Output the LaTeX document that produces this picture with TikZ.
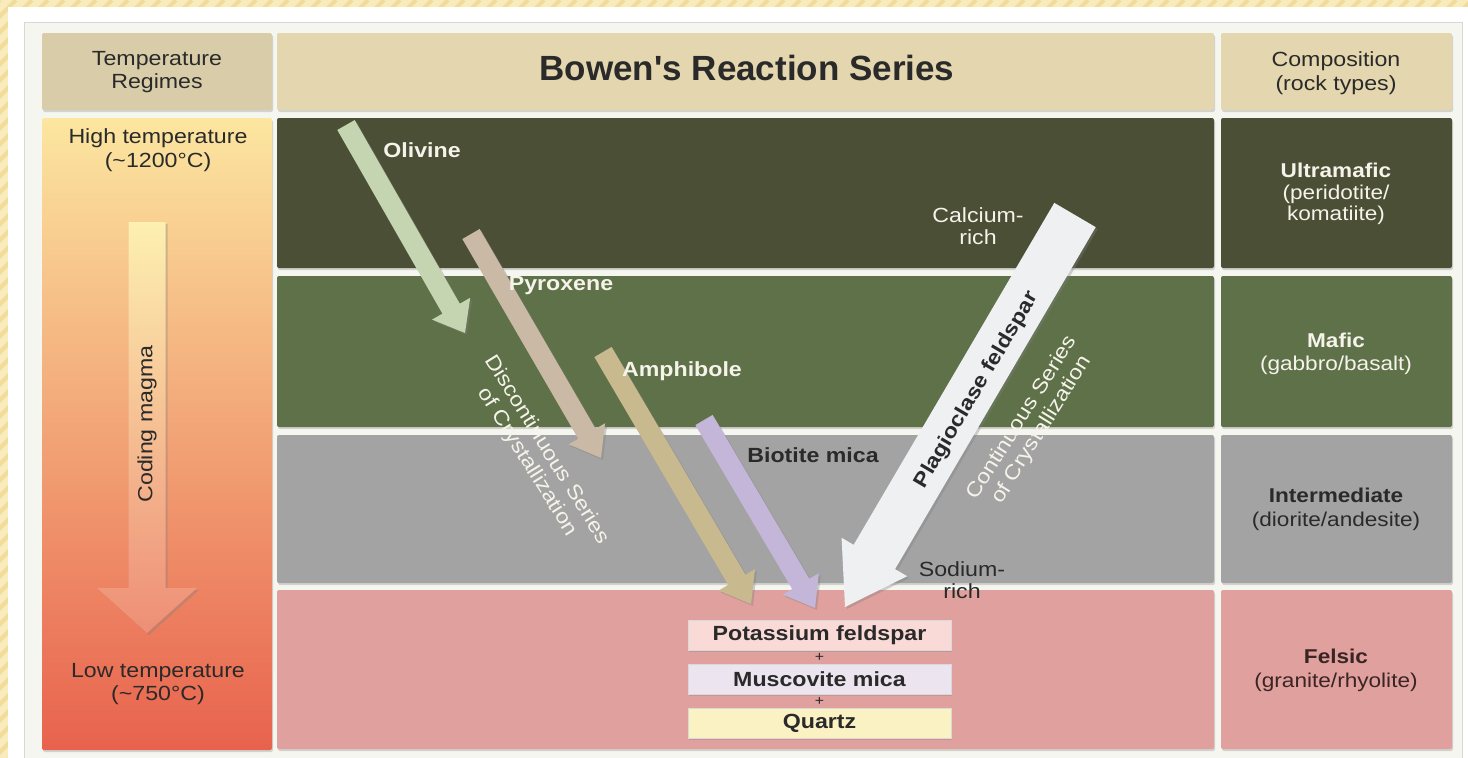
\documentclass[tikz,border=0pt]{standalone}
\usepackage{fontspec}
\setmainfont{Liberation Sans}[FakeStretch=1.13]
\newfontfamily\titlefont{Liberation Sans}
\usetikzlibrary{calc,shadows}
\definecolor{bgyel}{HTML}{F9EBBC}
\definecolor{bgstripe}{HTML}{F2DC9C}
\definecolor{panel}{HTML}{F6F6F1}
\definecolor{panelline}{HTML}{D9D9D3}
\definecolor{hdrleft}{HTML}{D9CCA8}
\definecolor{hdr}{HTML}{E4D6AE}
\definecolor{rowA}{HTML}{4B4F36}
\definecolor{rowB}{HTML}{5E7149}
\definecolor{rowC}{HTML}{A3A3A3}
\definecolor{rowD}{HTML}{E0A09D}
\definecolor{tempTop}{HTML}{FCE6A0}
\definecolor{tempMid}{HTML}{F4A877}
\definecolor{tempBot}{HTML}{E8624D}
\definecolor{coolTop}{HTML}{FDF0B0}
\definecolor{coolBot}{HTML}{EE8E76}
\definecolor{olivC}{HTML}{C6D5B1}
\definecolor{pyroC}{HTML}{C9B9A5}
\definecolor{amphC}{HTML}{C8B98E}
\definecolor{bioC}{HTML}{C4B6D8}
\definecolor{plagC}{HTML}{EEF0F2}
\definecolor{kspC}{HTML}{FADAD6}
\definecolor{muscC}{HTML}{ECE4EF}
\definecolor{qtzC}{HTML}{FBF2C4}
\definecolor{darktxt}{HTML}{2A2A2A}
\definecolor{lighttxt}{HTML}{F6F3EA}
\definecolor{felstxt}{HTML}{3A2424}
\newcommand{\fatarrow}[6]{%
  \coordinate (#1-H) at ($(#2)!#5!(#1)$);
  \path[#6] ($(#1)!#3!90:(#2)$) -- ($(#1-H)!#3!-90:(#1)$) -- ($(#1-H)!#4!-90:(#1)$) -- (#2)
     -- ($(#1-H)!#4!90:(#1)$) -- ($(#1-H)!#3!90:(#1)$) -- ($(#1)!#3!-90:(#2)$) -- cycle;}
\begin{document}
\begin{tikzpicture}[x=1pt,y=-1pt,
  cell/.style={rounded corners=2pt, drop shadow={shadow xshift=1pt, shadow yshift=-2pt, opacity=0.3}},
  arrowshadow/.style={drop shadow={shadow xshift=2pt, shadow yshift=-2pt, opacity=0.35}},
  lbl/.style={font=\fontsize{20.5}{23.5}\selectfont, align=center, inner sep=0pt},
  blbl/.style={font=\fontsize{20.5}{23.5}\selectfont\bfseries, align=center, inner sep=0pt},
  boxlbl/.style={font=\fontsize{20.5}{23.5}\selectfont\bfseries, text=darktxt, draw=white!70!gray, line width=0.6pt,
     minimum width=263pt, minimum height=30pt, inner sep=0pt, drop shadow={shadow xshift=1pt, shadow yshift=-1.5pt, opacity=0.3}},
  plus/.style={font=\fontsize{14}{14}\selectfont, text=darktxt, inner sep=0pt}
]
\useasboundingbox (0,0) rectangle (1468,758);
% outer patterned border
\fill[bgyel] (0,0) rectangle (1468,758);
\begin{scope}
  \clip (0,0) rectangle (1468,758);
  \foreach \i in {0,16,...,2240} {\draw[bgstripe, line width=4pt] (\i,0) -- ({\i-760},760);}
\end{scope}
\fill[white] (8,7) rectangle (1468,758);
\fill[panel, draw=panelline] (24,22) rectangle (1462,770);
% header row
\fill[cell, fill=hdrleft] (42,33) rectangle (272,110);
\fill[cell, fill=hdr] (277,33) rectangle (1214,110);
\fill[cell, fill=hdr] (1221,33) rectangle (1452,110);
% temperature column
\path[cell, top color=tempTop, middle color=tempMid, bottom color=tempBot] (42,118) rectangle (272,750);
% rows
\fill[cell, fill=rowA] (277,118) rectangle (1214,268);
\fill[cell, fill=rowA] (1221,118) rectangle (1452,268);
\fill[cell, fill=rowB] (277,276) rectangle (1214,427);
\fill[cell, fill=rowB] (1221,276) rectangle (1452,427);
\fill[cell, fill=rowC] (277,435) rectangle (1214,583);
\fill[cell, fill=rowC] (1221,435) rectangle (1452,583);
\fill[cell, fill=rowD] (277,590) rectangle (1214,749);
\fill[cell, fill=rowD] (1221,590) rectangle (1452,749);
% header texts
\node[lbl, text=darktxt] (hTemp) at (157,72) {Temperature\\Regimes};
\node[font=\titlefont\fontsize{35}{38}\selectfont\bfseries, text=darktxt, inner sep=0pt] (hTitle) at (747,68) {Bowen\textquotesingle s Reaction Series};
\node[lbl, text=darktxt] (hComp) at (1336,73) {Composition\\(rock types)};
% temperature column
\node[lbl, text=darktxt, font=\fontsize{20.5}{24.5}\selectfont] (tHigh) at (158,150) {High temperature\\(\textasciitilde1200\textdegree C)};
\node[lbl, text=darktxt] (tLow) at (158,684) {Low temperature\\(\textasciitilde750\textdegree C)};
\coordinate (coolT) at (147,222);
\coordinate (coolP) at (147,633);
\fatarrow{coolT}{coolP}{18.5pt}{50pt}{45pt}{arrowshadow, top color=coolTop, bottom color=coolBot}
\node[lbl, text=darktxt, rotate=90] (cool) at (147,424) {Coding magma};
% discontinuous series arrows
\coordinate (olT) at (346,125);  \coordinate (olP) at (465,333);
\coordinate (pyT) at (471,234);  \coordinate (pyP) at (601,458);
\coordinate (amT) at (603,352);  \coordinate (amP) at (751,604);
\coordinate (biT) at (704,420);  \coordinate (biP) at (815,608);
\coordinate (plT) at (1075,215); \coordinate (plP) at (845,607);
\fatarrow{olT}{olP}{10pt}{22pt}{28pt}{arrowshadow, fill=olivC}
\fatarrow{pyT}{pyP}{10pt}{21pt}{28pt}{arrowshadow, fill=pyroC}
\fatarrow{amT}{amP}{10pt}{21pt}{28pt}{arrowshadow, fill=amphC}
\fatarrow{biT}{biP}{10pt}{21pt}{28pt}{arrowshadow, fill=bioC}
\fatarrow{plT}{plP}{24pt}{38pt}{58pt}{arrowshadow, fill=plagC}
% mineral labels
\node[blbl, text=lighttxt] (olivine) at (422,150) {Olivine};
\node[blbl, text=lighttxt] (pyroxene) at (561,286) {Pyroxene};
\node[blbl, text=lighttxt] (amphibole) at (682,371) {Amphibole};
\node[blbl, text=darktxt] (biotite) at (813,455) {Biotite mica};
\node[lbl, text=lighttxt, font=\fontsize{20.5}{22}\selectfont] (calcium) at (978,226) {Calcium-\\rich};
\node[lbl, text=darktxt, font=\fontsize{20.5}{22}\selectfont] (sodium) at (962,580) {Sodium-\\rich};
\node[blbl, text=darktxt, rotate=59.5] (plag) at (977,390) {Plagioclase feldspar};
\node[lbl, text=lighttxt, rotate=-58, font=\fontsize{20.5}{23}\selectfont] (discont) at (537,456) {Discontinuous Series\\of Crystallization};
\node[lbl, text=lighttxt, rotate=58, font=\fontsize{20.5}{23}\selectfont] (cont) at (1032,424) {Continuous Series\\of Crystallization};
% end products
\node[boxlbl, fill=kspC] (ksp) at (819.5,635) {Potassium feldspar};
\node[plus] (plus1) at (819.5,657) {+};
\node[boxlbl, fill=muscC] (musc) at (819.5,679) {Muscovite mica};
\node[plus] (plus2) at (819.5,701) {+};
\node[boxlbl, fill=qtzC] (qtz) at (819.5,723) {Quartz};
% composition column
\node[lbl, text=lighttxt, font=\fontsize{20}{21.5}\selectfont] (ultra) at (1336,194) {\textbf{Ultramafic}\\(peridotite/\\komatiite)};
\node[lbl, text=lighttxt, font=\fontsize{20}{23}\selectfont] (mafic) at (1336,354) {\textbf{Mafic}\\(gabbro/basalt)};
\node[lbl, text=darktxt, font=\fontsize{20}{24}\selectfont] (inter) at (1336,509) {\textbf{Intermediate}\\(diorite/andesite)};
\node[lbl, text=felstxt, font=\fontsize{20}{24}\selectfont] (felsic) at (1336,670) {\textbf{Felsic}\\(granite/rhyolite)};
\end{tikzpicture}
\end{document}
